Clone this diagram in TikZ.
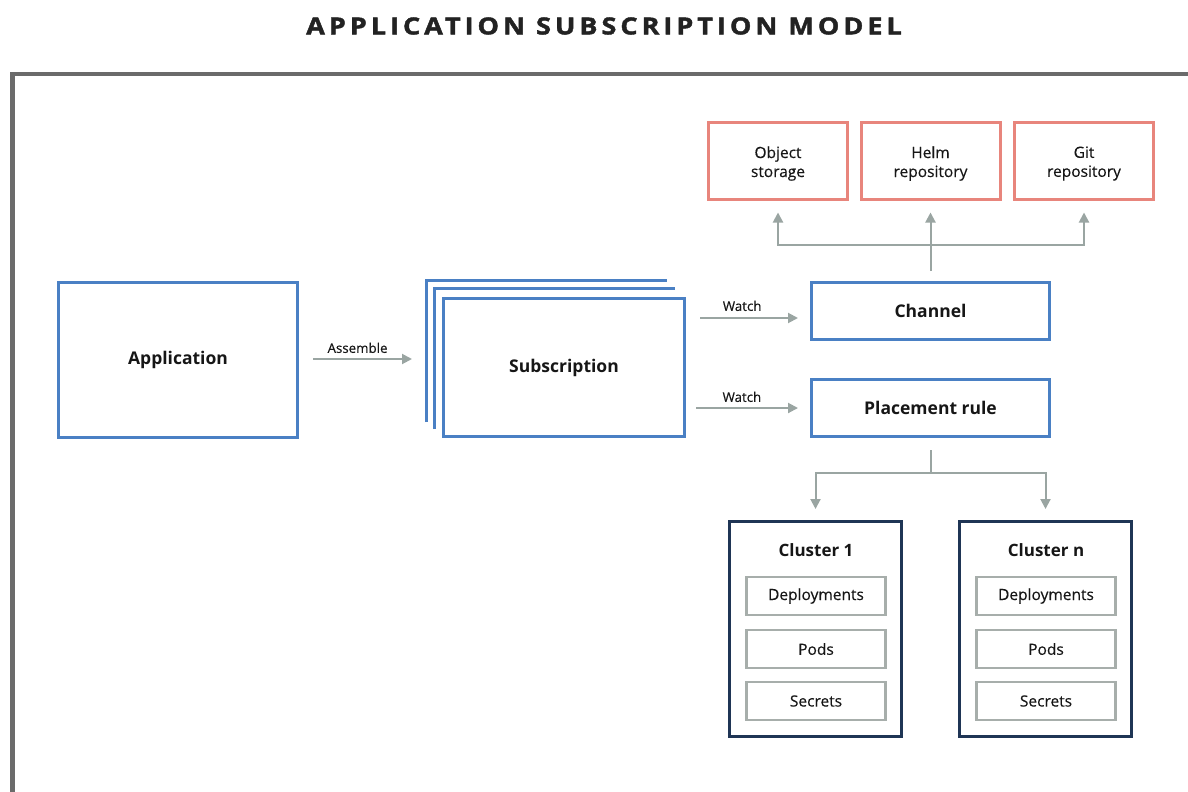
\documentclass[tikz,border=0pt]{standalone}
\usepackage{fontspec}
\setmainfont{Open Sans}
\usetikzlibrary{arrows.meta,calc}
\definecolor{bblue}{HTML}{4A80C4}
\definecolor{rred}{HTML}{E8857C}
\definecolor{agray}{HTML}{9AA5A2}
\definecolor{navy}{HTML}{1F3555}
\definecolor{igray}{HTML}{A7AEAB}
\definecolor{fgray}{HTML}{6B6B6B}
\definecolor{txt}{HTML}{161616}
\newcommand{\medw}{\addfontfeature{FakeBold=0.35}}
\tikzset{
  bluebox/.style={draw=bblue, line width=3pt, fill=white, text=txt, font=\fontsize{17.5}{20}\selectfont\bfseries, inner sep=0pt},
  redbox/.style={draw=rred, line width=3pt, minimum width=139pt, minimum height=77pt, inner sep=0pt},
  rtext/.style={text=txt, align=center, font=\fontsize{15.5}{19}\selectfont\medw, inner sep=0pt},
  clbox/.style={draw=navy, line width=3pt, minimum width=172pt, minimum height=215pt, inner sep=0pt},
  inbox/.style={draw=igray, line width=2.5pt, minimum width=139pt, minimum height=38pt, text=txt, font=\fontsize{15.5}{18}\selectfont\medw, inner sep=0pt},
  cltitle/.style={text=txt, font=\fontsize{17}{20}\selectfont\bfseries},
  lbl/.style={text=txt, font=\fontsize{13.3}{15}\selectfont\medw, inner sep=0pt},
  arr/.style={draw=agray, line width=2pt, -{Triangle[length=10pt,width=10pt]}},
  conn/.style={draw=agray, line width=2pt},
}
\begin{document}
\begin{tikzpicture}[x=1pt,y=-1pt]
\useasboundingbox (0,0) rectangle (1188,792);
% title
\node[text=txt!95!white, font=\fontsize{23.5}{26}\selectfont\bfseries\addfontfeature{LetterSpace=17,FakeBold=1.8,FakeStretch=1.15}] (title) at (604,26) {APPLICATION SUBSCRIPTION MODEL};
% frame
\draw[fgray, line width=4.5pt] (12.5,800) -- (12.5,74) -- (1195,74);
% application
\node[bluebox, minimum width=239pt, minimum height=155pt] (app) at (178,360) {Application};
% subscription stack
\draw[bblue, line width=3pt] (426,422) |- (666.5,280);
\draw[bblue, line width=3pt] (434,429) |- (675,288);
\node[bluebox, minimum width=241pt, minimum height=138pt] (sub) at (564,367.5) {Subscription};
% channel & placement
\node[bluebox, minimum width=238pt, minimum height=57pt] (chan) at (930.5,311) {Channel};
\node[bluebox, minimum width=238pt, minimum height=57pt] (place) at (930.5,408) {Placement rule};
% sources
\node[redbox] (obj) at (778,160.5) {};
\node[redbox] (helm) at (930.5,160.5) {};
\node[redbox] (git) at (1084,160.5) {};
\node[rtext] (objt) at ([shift={(0,3)}]obj.center) {Object\\storage};
\node[rtext] (helmt) at ([shift={(0,3)}]helm.center) {Helm\\repository};
\node[rtext] (gitt) at ([shift={(0,3)}]git.center) {Git\\repository};
% clusters
\node[clbox] (c1) at (815.5,629) {};
\node[clbox] (cn) at (1045.5,629) {};
\node[cltitle] (c1t) at (816,550) {Cluster 1};
\node[cltitle] (cnt) at (1046,550) {Cluster n};
\node[inbox] (d1) at (816,596) {Deployments};
\node[inbox] (p1) at (816,649) {Pods};
\node[inbox] (s1) at (816,701) {Secrets};
\node[inbox] (dn) at (1046,596) {Deployments};
\node[inbox] (pn) at (1046,649) {Pods};
\node[inbox] (sn) at (1046,701) {Secrets};
% assemble
\draw[arr] ([shift={(14,-1)}]app.east) -- ([shift={(-30,-1)}]app.east -| sub.west)
  node[lbl, above=5pt, pos=0.45] (asm) {Assemble};
% watch arrows
\draw[arr] ([shift={(14,7)}]sub.east |- chan.west) -- ([shift={(-12,7)}]chan.west)
  node[lbl, above=6pt, pos=0.43] (w1) {Watch};
\draw[arr] ([shift={(10,0)}]sub.east |- place.west) -- ([shift={(-12,0)}]place.west)
  node[lbl, above=5pt, pos=0.45] (w2) {Watch};
% channel to sources
\coordinate (hubc) at ($(chan.north)+(0,-36)$);
\draw[conn] ([shift={(0,-10)}]chan.north) -- (hubc);
\draw[arr] (hubc) -- ([shift={(0,12)}]helm.south);
\draw[arr] (hubc) -| ([shift={(0,12)}]obj.south);
\draw[arr] (hubc) -| ([shift={(0,12)}]git.south);
% placement to clusters
\coordinate (hubp) at ($(place.south)+(0,35)$);
\draw[conn] ([shift={(0,12)}]place.south) -- (hubp);
\draw[arr] (hubp) -| ([shift={(0,-11)}]c1.north);
\draw[arr] (hubp) -| ([shift={(0,-11)}]cn.north);
\end{tikzpicture}
\end{document}
